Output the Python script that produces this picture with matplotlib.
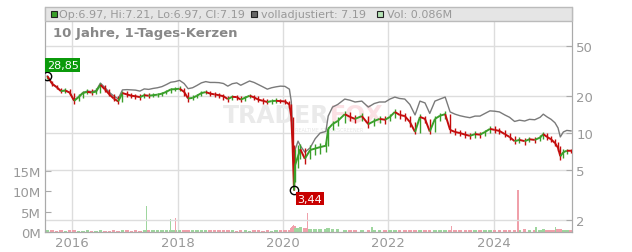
import matplotlib
matplotlib.use("Agg")
import matplotlib.pyplot as plt
import matplotlib.dates as mdates
from matplotlib.collections import LineCollection
from matplotlib.patches import Rectangle
import numpy as np
import pandas as pd

# price data (roughly monthly, finer around the 2020 crash)
dates = ["2015-07-13", "2015-08-15", "2015-09-15", "2015-10-15", "2015-11-15", "2015-12-15",
         "2016-01-15", "2016-02-15", "2016-03-15", "2016-04-15", "2016-05-15", "2016-06-15",
         "2016-07-15", "2016-08-15", "2016-09-15", "2016-10-15", "2016-11-15", "2016-12-15",
         "2017-01-15", "2017-02-15", "2017-03-15", "2017-04-15", "2017-05-15", "2017-06-15",
         "2017-07-15", "2017-08-15", "2017-09-15", "2017-10-15", "2017-11-15", "2017-12-15",
         "2018-01-15", "2018-02-15", "2018-03-15", "2018-04-15", "2018-05-15", "2018-06-15",
         "2018-07-15", "2018-08-15", "2018-09-15", "2018-10-15", "2018-11-15", "2018-12-15",
         "2019-01-15", "2019-02-15", "2019-03-15", "2019-04-15", "2019-05-15", "2019-06-15",
         "2019-07-15", "2019-08-15", "2019-09-15", "2019-10-15", "2019-11-15", "2019-12-15",
         "2020-01-15", "2020-02-15", "2020-02-28", "2020-03-08", "2020-03-18", "2020-03-25",
         "2020-04-15", "2020-05-01", "2020-06-01", "2020-07-08", "2020-08-12", "2020-09-15",
         "2020-10-25", "2020-11-10", "2020-12-10", "2021-01-15", "2021-03-05", "2021-04-10",
         "2021-05-15", "2021-07-01", "2021-08-15", "2021-09-25", "2021-11-01", "2021-12-10",
         "2022-01-12", "2022-02-15", "2022-03-20", "2022-04-25", "2022-05-30", "2022-07-05",
         "2022-08-08", "2022-09-12", "2022-10-15", "2022-11-20", "2022-12-25", "2023-01-30",
         "2023-03-05", "2023-04-08", "2023-05-12", "2023-06-18", "2023-07-20", "2023-08-25",
         "2023-09-28", "2023-11-02", "2023-12-06", "2024-01-08", "2024-02-10", "2024-03-18",
         "2024-04-20", "2024-05-25", "2024-06-28", "2024-08-03", "2024-09-05", "2024-10-12",
         "2024-11-18", "2024-12-10", "2025-01-05", "2025-02-02", "2025-03-01", "2025-03-22",
         "2025-04-07", "2025-04-28", "2025-05-22", "2025-06-20"]

close = [28.85, 25.0, 23.5, 21.8, 22.0, 21.2,
         18.2, 19.5, 21.0, 21.5, 21.2, 21.6,
         24.5, 22.5, 20.5, 19.0, 18.0, 21.0,
         20.5, 20.0, 19.8, 19.5, 20.2, 20.0,
         20.2, 20.4, 20.8, 21.5, 22.5, 22.6,
         22.8, 21.5, 19.0, 19.2, 20.0, 21.0,
         21.4, 20.8, 20.5, 20.2, 19.8, 18.8,
         19.6, 19.5, 18.6, 19.3, 20.0, 19.4,
         18.6, 18.2, 17.8, 18.1, 18.2, 18.1,
         18.0, 17.0, 13.5, 8.0, 3.44, 5.5,
         6.5, 7.4, 6.2, 7.3, 7.5, 7.7,
         7.9, 10.8, 11.8, 12.5, 14.2, 13.5,
         13.0, 13.7, 11.8, 12.5, 13.0, 12.8,
         13.5, 14.8, 14.0, 13.7, 12.3, 10.2,
         13.5, 13.0, 10.3, 13.0, 13.8, 14.2,
         10.6, 10.2, 10.0, 9.7, 9.5, 9.8,
         9.7, 10.2, 10.8, 10.6, 10.4, 9.8,
         9.3, 8.6, 8.8, 8.6, 8.9, 8.8,
         9.2, 9.8, 9.3, 8.9, 8.3, 7.6,
         6.5, 7.0, 7.2, 7.19]

# monthly high / low band of the candles
high = [29.0, 26.5, 24.5, 23.0, 23.0, 22.5,
        21.0, 20.5, 22.0, 22.5, 22.5, 23.0,
        25.5, 24.5, 22.5, 20.5, 19.8, 21.8,
        21.8, 21.2, 20.8, 20.6, 21.0, 21.0,
        21.0, 21.2, 21.6, 22.3, 23.2, 23.5,
        23.8, 23.0, 21.5, 20.2, 20.8, 21.8,
        22.2, 21.8, 21.3, 21.0, 20.6, 20.0,
        20.4, 20.3, 19.8, 20.0, 20.8, 20.3,
        19.8, 19.0, 18.8, 18.9, 19.0, 18.9,
        18.8, 18.2, 17.2, 13.5, 8.0, 7.5,
        8.0, 8.2, 7.6, 8.0, 8.2, 8.3,
        8.5, 11.2, 12.6, 13.5, 15.0, 14.8,
        14.0, 14.5, 13.8, 13.2, 13.8, 13.6,
        14.2, 15.6, 15.2, 14.6, 13.8, 12.3,
        14.2, 13.8, 13.0, 13.6, 14.4, 15.0,
        14.2, 11.0, 10.6, 10.3, 10.0, 10.3,
        10.2, 10.6, 11.3, 11.3, 11.0, 10.6,
        10.0, 9.4, 9.3, 9.2, 9.3, 9.3,
        9.6, 10.1, 10.0, 9.5, 9.0, 8.4,
        7.8, 7.4, 7.5, 7.4]

low = [27.5, 24.0, 22.5, 21.0, 21.0, 20.2,
       17.0, 18.0, 19.3, 20.5, 20.3, 20.5,
       21.2, 21.6, 19.8, 18.3, 17.0, 17.8,
       19.7, 19.2, 18.8, 18.6, 19.0, 19.2,
       19.4, 19.6, 20.0, 20.6, 21.2, 21.8,
       21.9, 20.0, 17.8, 18.4, 19.0, 19.8,
       20.5, 20.0, 19.6, 19.3, 18.6, 17.8,
       18.5, 18.6, 17.8, 18.2, 19.0, 18.6,
       17.8, 17.3, 17.0, 17.2, 17.4, 17.4,
       17.2, 16.0, 12.5, 7.0, 3.44, 4.0,
       5.2, 6.2, 5.6, 6.2, 6.6, 6.8,
       7.0, 7.8, 10.5, 11.5, 12.0, 12.6,
       12.0, 12.6, 11.0, 11.5, 12.0, 11.8,
       12.4, 13.2, 13.0, 12.5, 11.2, 9.8,
       10.0, 12.0, 9.8, 10.2, 12.6, 13.0,
       10.0, 9.7, 9.5, 9.2, 9.0, 9.2,
       9.2, 9.5, 10.0, 10.0, 9.8, 9.3,
       8.8, 8.2, 8.3, 8.0, 8.4, 8.3,
       8.7, 9.0, 8.8, 8.5, 7.8, 7.2,
       6.1, 6.3, 6.8, 6.9]

adjusted = [28.85, 25.0, 23.5, 21.9, 22.1, 21.3,
            18.3, 19.6, 21.2, 21.8, 21.6, 22.0,
            25.3, 23.3, 21.3, 19.9, 18.9, 22.3,
            22.4, 22.3, 22.2, 21.8, 22.7, 22.5,
            22.9, 23.2, 23.7, 24.6, 25.7, 26.0,
            26.6, 25.1, 22.8, 23.2, 24.2, 25.4,
            26.0, 25.6, 25.6, 25.5, 25.1, 23.9,
            25.0, 25.4, 24.3, 25.3, 26.3, 25.6,
            24.6, 23.6, 22.6, 23.2, 23.6, 23.9,
            23.8, 22.6, 18.0, 10.5, 4.6, 7.3,
            8.6, 7.9, 7.0, 7.6, 9.0, 10.0,
            10.3, 13.7, 16.2, 17.0, 18.8, 18.4,
            17.8, 18.1, 16.2, 17.3, 17.8, 17.8,
            18.8, 19.5, 19.0, 18.8, 17.0, 14.0,
            18.1, 17.5, 14.4, 18.1, 18.8, 19.5,
            14.8, 14.2, 13.8, 13.5, 13.3, 13.7,
            13.7, 14.4, 15.1, 15.0, 14.8, 14.0,
            13.4, 12.4, 12.7, 12.5, 12.9, 12.8,
            13.4, 14.2, 13.5, 12.9, 12.1, 11.0,
            9.3, 10.2, 10.5, 10.4]

# volume in millions, same dates as the price
volume = [0.5, 0.4, 0.3, 0.4, 0.3, 0.4,
          0.5, 0.3, 0.3, 0.4, 0.3, 0.3,
          0.4, 0.3, 0.3, 0.4, 0.3, 0.5,
          0.4, 0.3, 0.4, 0.3, 0.5, 0.4,
          0.4, 0.5, 0.4, 0.5, 0.6, 0.5,
          0.5, 0.6, 0.5, 0.4, 0.5, 0.4,
          0.4, 0.5, 0.6, 0.4, 0.5, 0.4,
          0.4, 0.3, 0.4, 0.4, 0.3, 0.4,
          0.4, 0.3, 0.4, 0.3, 0.4, 0.4,
          0.5, 0.6, 1.0, 1.2, 1.4, 1.1,
          1.0, 1.2, 0.9, 0.8, 0.7, 0.8,
          0.7, 0.9, 0.8, 0.7, 0.6, 0.6,
          0.5, 0.6, 0.5, 0.5, 0.6, 0.5,
          0.5, 0.6, 0.5, 0.5, 0.5, 0.6,
          0.5, 0.4, 0.5, 0.5, 0.4, 0.5,
          0.6, 0.5, 0.4, 0.5, 0.4, 0.4,
          0.5, 0.4, 0.5, 0.5, 0.4, 0.5,
          0.5, 0.6, 0.5, 0.7, 0.6, 0.5,
          0.6, 0.7, 0.6, 0.5, 0.6, 0.7,
          0.8, 0.6, 0.5, 0.4]

# single volume spikes
spike_dates = ["2017-05-30", "2017-11-10", "2017-12-20", "2020-03-12", "2020-06-18",
               "2021-09-10", "2023-03-15", "2024-06-18", "2024-10-20", "2025-03-05"]
spike_vol = [6.5, 3.2, 3.5, 1.6, 4.7, 1.2, 1.5, 10.4, 1.3, 1.3]
spike_up = [True, True, False, False, False, True, False, False, True, True]

d = pd.to_datetime(dates)
x = mdates.date2num(d)
sx = mdates.date2num(pd.to_datetime(spike_dates))

green = "#3a9f2a"
red = "#c40d0d"
vgreen = "#9ed69e"
vred = "#f0a0aa"

fig = plt.figure(figsize=(6.32, 2.53), dpi=100)
ax = fig.add_axes([45 / 632, 20 / 253, 527 / 632, 225 / 253])
ax2 = ax.twinx()

# volume on the left axis
up = [True] + [close[i] >= close[i - 1] for i in range(1, len(close))]
ax.bar(x, volume, width=24, color=[vgreen if u else vred for u in up], linewidth=0)
ax.bar(sx, spike_vol, width=8, color=[vgreen if u else vred for u in spike_up], linewidth=0)
ax.set_ylim(0, 55.3)
ax.set_yticks([0, 5, 10, 15])
ax.set_yticklabels(["0M", "5M", "10M", "15M"])

# price on the right (log)
ax2.set_yscale("log")
ax2.set_ylim(1.59, 104)
ax2.set_yticks([2, 5, 10, 20, 50])
ax2.set_yticklabels(["2", "5", "10", "20", "50"])
ax2.minorticks_off()

ax2.plot(x, adjusted, color="#7a7a7a", linewidth=1.0, zorder=3)
col = [green if u else red for u in up]
ax2.vlines(x, low, high, colors=col, linewidth=1.0, zorder=4)
pts = np.column_stack([x, close])
segs = [pts[i - 1:i + 1] for i in range(1, len(pts))]
ax2.add_collection(LineCollection(segs, colors=col[1:], linewidths=1.4, zorder=4))

# high / low markers
imax = int(np.argmax(close))
imin = int(np.argmin(close))
ax2.plot(x[imax], close[imax], "o", mfc="none", mec="black", ms=6, mew=1, zorder=6)
ax2.plot(x[imin], close[imin], "o", mfc="none", mec="black", ms=6, mew=1, zorder=6)
ax2.annotate("28,85", (x[imax], close[imax]), xytext=(11, 8), textcoords="offset points",
             ha="center", va="center", color="white", fontsize=8, zorder=7,
             bbox=dict(boxstyle="square,pad=0.15", fc="#0b9a0b", ec="none"))
ax2.annotate("3,44", (x[imin], close[imin]), xytext=(11.5, -6), textcoords="offset points",
             ha="center", va="center", color="white", fontsize=8, zorder=7,
             bbox=dict(boxstyle="square,pad=0.15", fc="#c80000", ec="none"))

# watermark
ax2.text(0.54, 0.52, "TRADER", transform=ax2.transAxes, ha="right", va="center",
         fontsize=17, fontweight="bold", color="#eaeaea", zorder=1)
ax2.text(0.54, 0.52, "FOX", transform=ax2.transAxes, ha="left", va="center",
         fontsize=17, fontweight="bold", color="#fbe0e4", zorder=1)
ax2.text(0.54, 0.455, "REALTIME STOCKSCREENER", transform=ax2.transAxes, ha="center", va="center",
         fontsize=3.5, color="#e6e6e6", zorder=1)

# x axis
ax.set_xlim(mdates.date2num(pd.Timestamp("2015-06-27")), mdates.date2num(pd.Timestamp("2025-06-27")))
ax.xaxis.set_major_locator(mdates.YearLocator(2))
ax.xaxis.set_major_formatter(mdates.DateFormatter("%Y"))

# grid + styling
ax2.grid(True, which="major", axis="y", color="#dddddd", linewidth=1)
ax.grid(True, which="major", axis="x", color="#dddddd", linewidth=1)
ax.set_axisbelow(True)
for a in (ax, ax2):
    for s in a.spines.values():
        s.set_color("#aaaaaa")
    a.spines["top"].set_visible(False)
ax.tick_params(axis="y", direction="in", length=4, colors="#aaaaaa", labelcolor="#999999", labelsize=9.5, pad=3)
ax.tick_params(axis="x", length=0, labelcolor="#999999", labelsize=9.5, pad=3)
ax2.tick_params(axis="y", direction="in", length=4, colors="#aaaaaa", labelcolor="#999999", labelsize=9.5, pad=3)

# legend band at the top
ax2.add_patch(Rectangle((0, 211 / 225), 1, 14 / 225, transform=ax2.transAxes,
                        facecolor="#e5e5e5", edgecolor="#bbbbbb", linewidth=1, zorder=8, clip_on=False))
ly = 218 / 225
for xs, fc in [(5.5, green), (205.5, "#666666"), (331.5, "#b5e3b5")]:
    ax2.add_patch(Rectangle((xs / 527, 215 / 225), 6 / 527, 6 / 225, transform=ax2.transAxes,
                            facecolor=fc, edgecolor="#222222", linewidth=0.8, zorder=9, clip_on=False))
ax2.text(14 / 527, ly, "Op:6.97, Hi:7.21, Lo:6.97, Cl:7.19", transform=ax2.transAxes,
         ha="left", va="center", fontsize=8, color="#999999", zorder=9)
ax2.text(216 / 527, ly, "volladjustiert: 7.19", transform=ax2.transAxes,
         ha="left", va="center", fontsize=8, color="#999999", zorder=9)
ax2.text(342 / 527, ly, "Vol: 0.086M", transform=ax2.transAxes,
         ha="left", va="center", fontsize=8, color="#999999", zorder=9)

ax2.text(8 / 527, 200 / 225, "10 Jahre, 1-Tages-Kerzen", transform=ax2.transAxes,
         ha="left", va="center", fontsize=9.5, fontweight="bold", color="#888888", zorder=9)

fig.savefig("out.png", dpi=100)
